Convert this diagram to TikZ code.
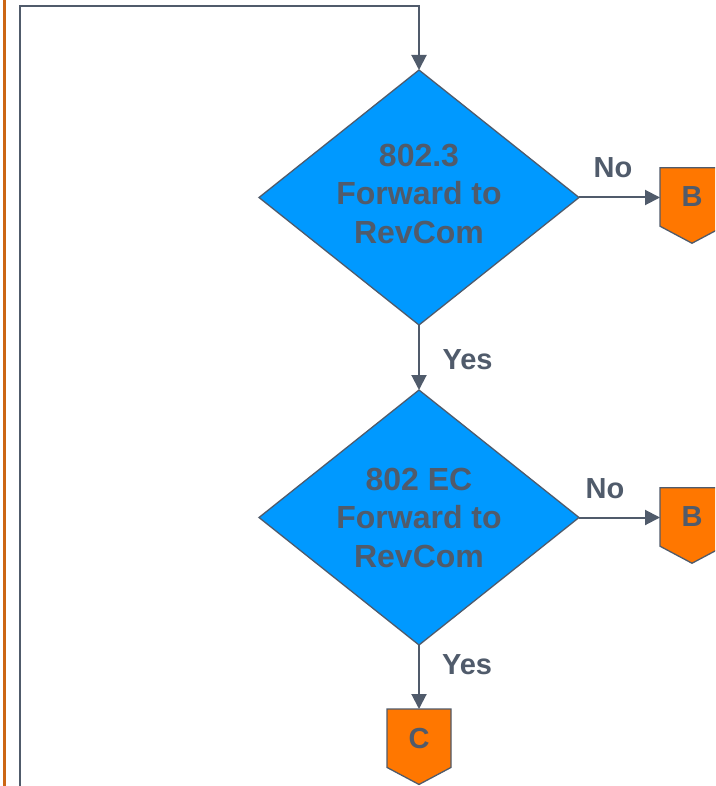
\documentclass[tikz,border=0pt]{standalone}
\usepackage{fontspec}
\setmainfont{Liberation Sans}
\usetikzlibrary{shapes.geometric, shapes.symbols, positioning, arrows.meta}
\definecolor{slate}{RGB}{80,91,107}
\definecolor{skyblue}{RGB}{0,153,255}
\definecolor{pageorange}{RGB}{255,119,0}
\definecolor{rust}{RGB}{204,102,20}

\begin{document}
\begin{tikzpicture}[x=1pt, y=-1pt,
    decision/.style={diamond, aspect=1.255, draw=slate, line width=1.3pt, fill=skyblue,
        minimum width=320pt, minimum height=255pt, inner sep=0pt, outer sep=0pt,
        align=center, text=slate, font=\fontsize{32}{38.5}\selectfont\bfseries},
    offpage/.style={signal, signal to=south, signal pointer angle=124,
        draw=slate, line width=1.3pt, fill=pageorange, minimum width=64pt,
        minimum height=64pt, inner sep=0pt, outer sep=0pt, text=slate,
        font=\fontsize{29}{30}\selectfont\bfseries},
    flow/.style={draw=slate, line width=2pt, -{Triangle[length=15pt, width=15pt]}},
    answer/.style={text=slate, font=\fontsize{29}{30}\selectfont\bfseries, inner sep=0pt}]
    \useasboundingbox (0,0) rectangle (715,786);
    \clip (0,0) rectangle (715,786);

    % decisions
    \node[decision] (q1) at (419,197.5) {802.3\\Forward to\\RevCom\rule[-8pt]{0pt}{0pt}};
    \node[decision, below=65pt of q1] (q2) {802 EC\\Forward to\\RevCom};

    % off-page connectors
    \node[offpage] (b1) at (692,197) {B};
    \node[offpage] (b2) at (692,517) {B};
    \node[offpage, below=64pt of q2] (c1) {C};

    % loop back from below
    \coordinate (back) at (20,800);
    \coordinate (top) at (419,6);
    \draw[rust, line width=3pt] (4,0) -- (4,786);

    \draw[flow] (back) |- (top) -- (q1.north);
    \draw[flow] (q1.east) -- node[answer, pos=0.42, yshift=30pt]{No} (q1.east -| b1.west);
    \draw[flow] (q1.south) -- node[answer, pos=0.54, xshift=48.5pt]{Yes} (q2.north);
    \draw[flow] (q2.east) -- node[answer, pos=0.32, yshift=29pt]{No} (q2.east -| b2.west);
    \draw[flow] (q2.south) -- node[answer, pos=0.3, xshift=48pt]{Yes} (c1.north);
\end{tikzpicture}
\end{document}
